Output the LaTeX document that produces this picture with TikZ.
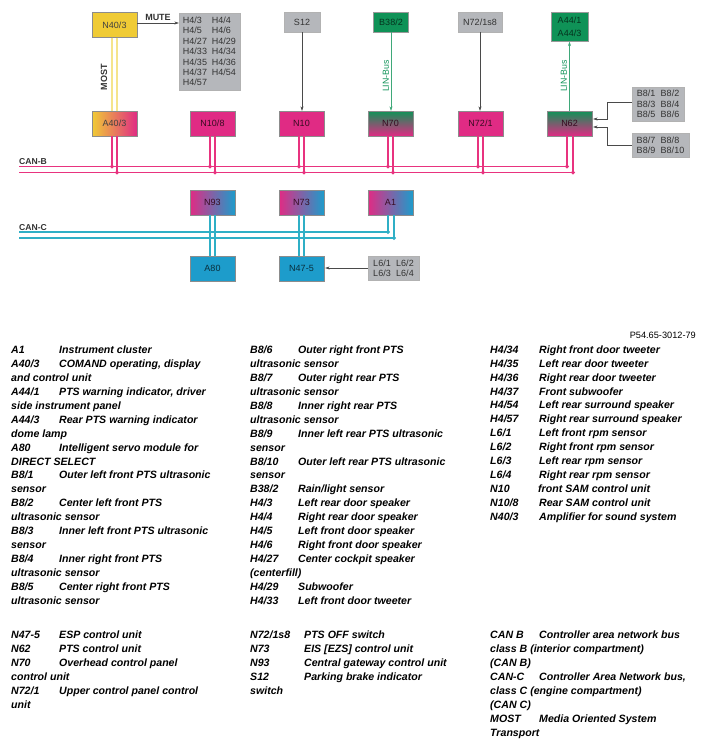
\documentclass[tikz,border=0pt]{standalone}
\usepackage{fontspec}
\setmainfont{Liberation Sans}
\usetikzlibrary{arrows.meta,positioning}
\definecolor{boxyellow}{HTML}{F0CB35}
\definecolor{boxmagenta}{HTML}{E02B84}
\definecolor{boxblue}{HTML}{1D9CCB}
\definecolor{boxgreen}{HTML}{0F9257}
\definecolor{boxgray}{HTML}{B5B7BB}
\definecolor{busmagenta}{HTML}{E8337F}
\definecolor{busblue}{HTML}{2FAFC6}
\definecolor{mostyellow}{HTML}{F5E48C}
\definecolor{linegray}{HTML}{4A4A4A}
\newcommand{\legendline}[3][48pt]{\makebox[#1][l]{#2}#3}
\newcommand{\sensorpair}[2]{\makebox[24pt][l]{#1}#2}
\newcommand{\hornpair}[2]{\makebox[29pt][l]{#1}#2}

\begin{document}
\begin{tikzpicture}[x=1pt,y=-1pt]
\tikzset{
  unitbox/.style={rectangle,draw=black!45,line width=0.4pt,minimum width=45pt,minimum height=25pt,inner sep=0pt,font=\fontsize{9}{10}\selectfont},
  magentabox/.style={unitbox,fill=boxmagenta,text=black!75!boxmagenta},
  bluebox/.style={unitbox,fill=boxblue,text=black!70!boxblue},
  mixbox/.style={unitbox,left color=boxmagenta,right color=boxblue,text=black!75!boxmagenta},
  stackbox/.style={unitbox,top color=boxgreen,bottom color=boxmagenta,text=black!75!boxmagenta},
  graybox/.style={rectangle,draw=black!30,line width=0.4pt,fill=boxgray,inner sep=0pt,align=left,text=black!80,font=\fontsize{9}{10.4}\selectfont},
  greenbox/.style={rectangle,draw=black!40,line width=0.4pt,fill=boxgreen,inner sep=0pt,align=center,text=black!65!boxgreen,font=\fontsize{9}{13}\selectfont},
  arrowline/.style={draw=linegray,line width=0.5pt,-{Stealth[length=4.5pt,width=3pt]}},
  linarrow/.style={draw=boxgreen!80,line width=0.5pt,-{Stealth[length=4.5pt,width=3pt]}},
  mostline/.style={draw=mostyellow,line width=1.2pt},
  busb/.style={draw=busmagenta,line width=1.2pt},
  busc/.style={draw=busblue,line width=1.2pt},
  stubb/.style={busb,shorten >=-1.9pt,-{Circle[length=3.8pt,width=3.8pt]}},
  stubc/.style={busc,shorten >=-1.9pt,-{Circle[length=3.8pt,width=3.8pt]}},
  buslabel/.style={anchor=base west,inner sep=0pt,text=black!80,font=\fontsize{8.6}{10}\bfseries\selectfont},
  linlabel/.style={rotate=90,inner sep=0pt,text=boxgreen,font=\fontsize{8.8}{10}\selectfont},
  legendcol/.style={anchor=north west,inner sep=0pt,align=left,font=\fontsize{10.6}{13.9}\bfseries\itshape\selectfont}
}
\useasboundingbox (0,0) rectangle (704,747);
% top row
\node[unitbox,fill=boxyellow,text=black!75] (n_n403) at (114.5,25) {N40/3};
\node[graybox,minimum width=61pt,minimum height=77pt] (n_h4) at (209.5,51.5) {\hornpair{H4/3}{H4/4}\\\hornpair{H4/5}{H4/6}\\\hornpair{H4/27}{H4/29}\\\hornpair{H4/33}{H4/34}\\\hornpair{H4/35}{H4/36}\\\hornpair{H4/37}{H4/54}\\H4/57};
\node[graybox,align=center,minimum width=36pt,minimum height=20pt] (n_s12) at (302,22) {S12};
\node[greenbox,minimum width=35pt,minimum height=20pt] (n_b382) at (391,22) {B38/2};
\node[graybox,align=center,minimum width=44pt,minimum height=20pt] (n_n72s) at (480,22) {N72/1s8};
\node[greenbox,minimum width=37pt,minimum height=29pt] (n_a44) at (569.5,27) {A44/1\\A44/3};
% CAN-B row
\node[unitbox,left color=boxyellow,right color=boxmagenta,text=black!75] (n_a403) at (114.5,123.5) {A40/3};
\node[magentabox] (n_n108) at (212.5,123.5) {N10/8};
\node[magentabox] (n_n10) at (301.5,123.5) {N10};
\node[stackbox] (n_n70) at (390.5,123.5) {N70};
\node[magentabox] (n_n721) at (480.5,123.5) {N72/1};
\node[stackbox] (n_n62) at (569.5,123.5) {N62};
\node[graybox,minimum width=52pt,minimum height=34pt] (n_b8a) at (658,104) {\sensorpair{B8/1}{B8/2}\\\sensorpair{B8/3}{B8/4}\\\sensorpair{B8/5}{B8/6}};
\node[graybox,minimum width=57pt,minimum height=24pt] (n_b8b) at (660.5,145) {\sensorpair{B8/7}{B8/8}\\\sensorpair{B8/9}{B8/10}};
% CAN-C rows
\node[mixbox] (n_n93) at (212.5,202.5) {N93};
\node[mixbox] (n_n73) at (301.5,202.5) {N73};
\node[mixbox] (n_a1) at (390.5,202.5) {A1};
\node[bluebox] (n_a80) at (212.5,268.5) {A80};
\node[bluebox] (n_n475) at (301.5,268.5) {N47-5};
\node[graybox,minimum width=51pt,minimum height=24pt] (n_l6) at (393.5,268) {\makebox[23pt][l]{L6/1}L6/2\\\makebox[23pt][l]{L6/3}L6/4};
% bus ends
\coordinate (canb_a_w) at (19,166.5);
\coordinate (canb_a_e) at (567,166.5);
\coordinate (canb_b_w) at (19,172.5);
\coordinate (canb_b_e) at (573,172.5);
\coordinate (canc_a_w) at (19,232);
\coordinate (canc_a_e) at (388,232);
\coordinate (canc_b_w) at (19,238);
\coordinate (canc_b_e) at (394,238);
\draw[busb] (canb_a_w) -- (canb_a_e);
\draw[busb] (canb_b_w) -- (canb_b_e);
\draw[busc] (canc_a_w) -- (canc_a_e);
\draw[busc] (canc_b_w) -- (canc_b_e);
% MOST and single wires
\draw[mostline] ([xshift=-2.5pt]n_n403.south) -- ([xshift=-2.5pt]n_a403.north);
\draw[mostline] ([xshift=2.5pt]n_n403.south) -- ([xshift=2.5pt]n_a403.north);
\draw[arrowline] ([yshift=2pt]n_n403.east) -- ([yshift=2pt]n_n403.east -| n_h4.west);
\draw[arrowline] (n_s12.south) -- (n_s12.south |- n_n10.north);
\draw[linarrow] (n_b382.south) -- (n_b382.south |- n_n70.north);
\draw[arrowline] (n_n72s.south) -- (n_n72s.south |- n_n721.north);
\draw[linarrow] (n_n62.north) -- (n_a44.south);
\draw[arrowline] ([yshift=1.5pt]n_b8a.west) -- ++(-25,0) |- ([xshift=1pt,yshift=4.5pt]n_n62.east);
\draw[arrowline] (n_b8b.west) -- ++(-25,0) |- ([xshift=1pt,yshift=-3.5pt]n_n62.east);
\draw[arrowline] (n_l6.west) -- ([xshift=1pt]n_n475.east |- n_l6.west);
% CAN-B stubs
\draw[stubb] ([xshift=-2.5pt]n_a403.south) -- ([xshift=-2.5pt]n_a403.south |- canb_a_w);
\draw[stubb] ([xshift=2.5pt]n_a403.south) -- ([xshift=2.5pt]n_a403.south |- canb_b_w);
\draw[stubb] ([xshift=-2.5pt]n_n108.south) -- ([xshift=-2.5pt]n_n108.south |- canb_a_w);
\draw[stubb] ([xshift=2.5pt]n_n108.south) -- ([xshift=2.5pt]n_n108.south |- canb_b_w);
\draw[stubb] ([xshift=-2.5pt]n_n10.south) -- ([xshift=-2.5pt]n_n10.south |- canb_a_w);
\draw[stubb] ([xshift=2.5pt]n_n10.south) -- ([xshift=2.5pt]n_n10.south |- canb_b_w);
\draw[stubb] ([xshift=-2.5pt]n_n70.south) -- ([xshift=-2.5pt]n_n70.south |- canb_a_w);
\draw[stubb] ([xshift=2.5pt]n_n70.south) -- ([xshift=2.5pt]n_n70.south |- canb_b_w);
\draw[stubb] ([xshift=-2.5pt]n_n721.south) -- ([xshift=-2.5pt]n_n721.south |- canb_a_w);
\draw[stubb] ([xshift=2.5pt]n_n721.south) -- ([xshift=2.5pt]n_n721.south |- canb_b_w);
\draw[stubb] ([xshift=-2.5pt]n_n62.south) -- ([xshift=-2.5pt]n_n62.south |- canb_a_w);
\draw[stubb] ([xshift=3.5pt]n_n62.south) -- ([xshift=3.5pt]n_n62.south |- canb_b_w);
% CAN-C stubs
\draw[busc] ([xshift=-2.5pt]n_n93.south) -- ([xshift=-2.5pt]n_a80.north);
\draw[busc] ([xshift=2.5pt]n_n93.south) -- ([xshift=2.5pt]n_a80.north);
\draw[stubc] ([xshift=-2.5pt]n_n93.south) -- ([xshift=-2.5pt]n_n93.south |- canc_a_w);
\draw[stubc] ([xshift=2.5pt]n_n93.south) -- ([xshift=2.5pt]n_n93.south |- canc_b_w);
\draw[busc] ([xshift=-2.5pt]n_n73.south) -- ([xshift=-2.5pt]n_n475.north);
\draw[busc] ([xshift=2.5pt]n_n73.south) -- ([xshift=2.5pt]n_n475.north);
\draw[stubc] ([xshift=-2.5pt]n_n73.south) -- ([xshift=-2.5pt]n_n73.south |- canc_a_w);
\draw[stubc] ([xshift=2.5pt]n_n73.south) -- ([xshift=2.5pt]n_n73.south |- canc_b_w);
\draw[stubc] ([xshift=-2.5pt]n_a1.south) -- ([xshift=-2.5pt]n_a1.south |- canc_a_w);
\draw[stubc] ([xshift=3.5pt]n_a1.south) -- ([xshift=3.5pt]n_a1.south |- canc_b_w);
% labels
\node[inner sep=0pt,text=black!80,font=\fontsize{9}{10}\bfseries\selectfont] (l_mute) at (158,17) {MUTE};
\node[rotate=90,inner sep=0pt,text=black!80,font=\fontsize{9}{10}\bfseries\selectfont] (l_most) at (104,77) {MOST};
\node[linlabel] (l_lin_a) at (386,76) {LIN-Bus};
\node[linlabel] (l_lin_b) at (564,76) {LIN-Bus};
\node[buslabel] (l_canb) at (19,164) {CAN-B};
\node[buslabel] (l_canc) at (19,230) {CAN-C};
\node[anchor=base east,inner sep=0pt,font=\fontsize{9.2}{10}\selectfont] (l_ref) at (696,338) {P54.65-3012-79};
% legend
\node[legendcol] (t_a) at (11,346) {\legendline{A1}{Instrument cluster}\\
\legendline{A40/3}{COMAND operating, display}\\
and control unit\\
\legendline{A44/1}{PTS warning indicator, driver}\\
side instrument panel\\
\legendline{A44/3}{Rear PTS warning indicator}\\
dome lamp\\
\legendline{A80}{Intelligent servo module for}\\
DIRECT SELECT\\
\legendline{B8/1}{Outer left front PTS ultrasonic}\\
sensor\\
\legendline{B8/2}{Center left front PTS}\\
ultrasonic sensor\\
\legendline{B8/3}{Inner left front PTS ultrasonic}\\
sensor\\
\legendline{B8/4}{Inner right front PTS}\\
ultrasonic sensor\\
\legendline{B8/5}{Center right front PTS}\\
ultrasonic sensor};
\node[legendcol] (t_b) at (250,346) {\legendline{B8/6}{Outer right front PTS}\\
ultrasonic sensor\\
\legendline{B8/7}{Outer right rear PTS}\\
ultrasonic sensor\\
\legendline{B8/8}{Inner right rear PTS}\\
ultrasonic sensor\\
\legendline{B8/9}{Inner left rear PTS ultrasonic}\\
sensor\\
\legendline{B8/10}{Outer left rear PTS ultrasonic}\\
sensor\\
\legendline{B38/2}{Rain/light sensor}\\
\legendline{H4/3}{Left rear door speaker}\\
\legendline{H4/4}{Right rear door speaker}\\
\legendline{H4/5}{Left front door speaker}\\
\legendline{H4/6}{Right front door speaker}\\
\legendline{H4/27}{Center cockpit speaker}\\
(centerfill)\\
\legendline{H4/29}{Subwoofer}\\
\legendline{H4/33}{Left front door tweeter}};
\node[legendcol] (t_c) at (490,345.5) {\legendline[49pt]{H4/34}{Right front door tweeter}\\
\legendline[49pt]{H4/35}{Left rear door tweeter}\\
\legendline[49pt]{H4/36}{Right rear door tweeter}\\
\legendline[49pt]{H4/37}{Front subwoofer}\\
\legendline[49pt]{H4/54}{Left rear surround speaker}\\
\legendline[49pt]{H4/57}{Right rear surround speaker}\\
\legendline[49pt]{L6/1}{Left front rpm sensor}\\
\legendline[49pt]{L6/2}{Right front rpm sensor}\\
\legendline[49pt]{L6/3}{Left rear rpm sensor}\\
\legendline[49pt]{L6/4}{Right rear rpm sensor}\\
\legendline[48pt]{N10}{front SAM control unit}\\
\legendline[49pt]{N10/8}{Rear SAM control unit}\\
\legendline[49pt]{N40/3}{Amplifier for sound system}};
\node[legendcol] (t_d) at (11,631) {\legendline{N47-5}{ESP control unit}\\
\legendline{N62}{PTS control unit}\\
\legendline{N70}{Overhead control panel}\\
control unit\\
\legendline{N72/1}{Upper control panel control}\\
unit};
\node[legendcol] (t_e) at (250,631) {\legendline[54pt]{N72/1s8}{PTS OFF switch}\\
\legendline[54pt]{N73}{EIS [EZS] control unit}\\
\legendline[54pt]{N93}{Central gateway control unit}\\
\legendline[54pt]{S12}{Parking brake indicator}\\
switch};
\node[legendcol] (t_f) at (490,631) {\legendline[49pt]{CAN B}{Controller area network bus}\\
class B (interior compartment)\\
(CAN B)\\
\legendline[49pt]{CAN-C}{Controller Area Network bus,}\\
class C (engine compartment)\\
(CAN C)\\
\legendline[49pt]{MOST}{Media Oriented System}\\
Transport};
\end{tikzpicture}
\end{document}
